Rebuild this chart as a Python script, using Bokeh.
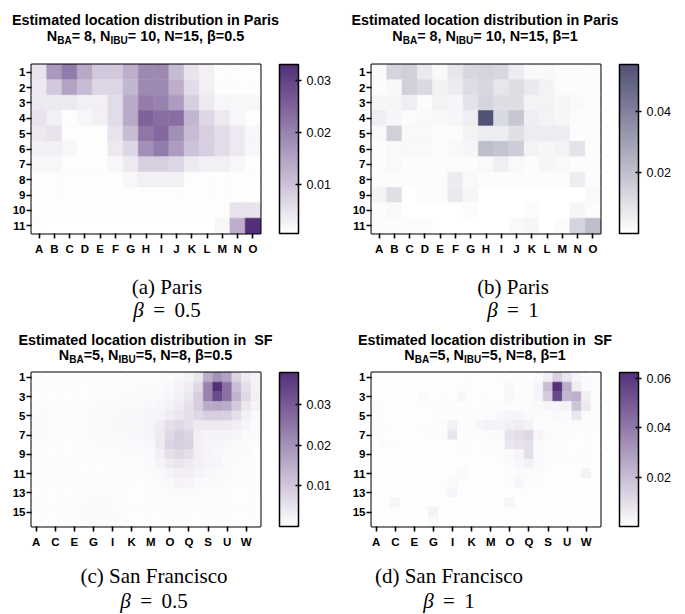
from bokeh.plotting import figure
from bokeh.models import (Range1d, FixedTicker, LinearColorMapper, ColorBar, Div,
                          ColumnDataSource, PrintfTickFormatter)
from bokeh.layouts import row, column
from bokeh.embed import file_html
from bokeh.resources import INLINE

# ---------------- data (values in units of 1e-4) ----------------
paris_cols = ["A", "B", "C", "D", "E", "F", "G", "H", "I", "J", "K", "L", "M", "N", "O"]
paris_rows = [1, 2, 3, 4, 5, 6, 7, 8, 9, 10, 11]
sf_cols = ["A", "B", "C", "D", "E", "F", "G", "H", "I", "J", "K", "L",
           "M", "N", "O", "P", "Q", "R", "S", "T", "U", "V", "W", "X"]
sf_rows = [1, 2, 3, 4, 5, 6, 7, 8, 9, 10, 11, 12, 13, 14, 15, 16]

paris_beta05 = [
    [50, 165, 210, 140, 90, 90, 130, 190, 190, 110, 50, 30, 10, 8, 8],
    [40, 90, 150, 110, 70, 70, 120, 190, 190, 130, 60, 30, 10, 10, 10],
    [40, 40, 40, 30, 30, 60, 140, 210, 200, 160, 80, 40, 20, 20, 20],
    [50, 30, 10, 20, 30, 60, 140, 250, 230, 230, 120, 70, 40, 20, 10],
    [40, 50, 10, 10, 10, 50, 110, 220, 240, 180, 110, 80, 60, 40, 20],
    [30, 30, 20, 10, 10, 40, 70, 180, 210, 160, 100, 80, 60, 40, 20],
    [20, 20, 10, 10, 10, 20, 40, 80, 80, 70, 40, 30, 30, 20, 10],
    [10, 10, 10, 10, 10, 10, 20, 30, 30, 30, 10, 10, 10, 10, 10],
    [8, 8, 8, 8, 8, 8, 10, 10, 10, 10, 8, 8, 8, 8, 8],
    [7, 7, 7, 7, 7, 7, 7, 7, 7, 7, 7, 7, 10, 50, 50],
    [10, 6, 6, 6, 6, 6, 6, 6, 6, 6, 6, 6, 20, 130, 330],
]
paris_beta1 = [
    [20, 140, 150, 70, 20, 80, 130, 140, 130, 60, 20, 20, 10, 10, 10],
    [10, 20, 150, 120, 40, 60, 110, 130, 80, 110, 70, 40, 10, 10, 10],
    [30, 30, 50, 10, 40, 30, 90, 140, 110, 110, 40, 40, 30, 20, 10],
    [50, 30, 10, 20, 20, 30, 50, 550, 120, 180, 50, 40, 30, 10, 10],
    [20, 150, 20, 20, 10, 10, 40, 60, 60, 100, 60, 60, 60, 10, 10],
    [10, 20, 20, 20, 10, 20, 30, 210, 190, 160, 40, 30, 40, 90, 10],
    [10, 20, 10, 10, 10, 10, 10, 20, 50, 20, 10, 30, 20, 10, 10],
    [10, 10, 10, 10, 10, 60, 20, 10, 10, 10, 10, 10, 10, 60, 10],
    [40, 100, 0, 10, 10, 70, 30, 0, 0, 0, 0, 0, 0, 0, 20],
    [10, 20, 0, 0, 0, 0, 10, 0, 0, 0, 10, 0, 0, 30, 10],
    [10, 10, 10, 10, 0, 0, 0, 0, 0, 20, 30, 0, 10, 140, 210],
]
sf_beta05 = [
    [5, 5, 5, 5, 5, 5, 5, 5, 5, 5, 5, 6, 7, 8, 10, 15, 25, 45, 150, 200, 170, 80, 40, 20],
    [5, 5, 5, 5, 5, 5, 5, 5, 6, 6, 7, 8, 9, 10, 15, 20, 35, 70, 230, 380, 260, 120, 60, 25],
    [5, 5, 5, 5, 5, 5, 6, 6, 7, 8, 9, 10, 11, 13, 18, 25, 45, 90, 230, 330, 260, 140, 70, 30],
    [8, 8, 6, 6, 6, 7, 8, 9, 10, 12, 13, 14, 15, 18, 25, 35, 55, 90, 150, 160, 150, 100, 45, 20],
    [10, 10, 8, 7, 7, 8, 10, 12, 13, 14, 15, 16, 18, 22, 35, 45, 60, 70, 90, 90, 85, 60, 30, 12],
    [10, 10, 8, 7, 7, 8, 10, 12, 14, 15, 16, 17, 20, 35, 60, 70, 60, 40, 40, 40, 40, 30, 20, 10],
    [8, 8, 6, 6, 6, 7, 9, 10, 12, 13, 14, 15, 18, 40, 70, 90, 80, 30, 20, 20, 20, 18, 12, 8],
    [6, 6, 5, 5, 5, 6, 7, 8, 9, 10, 11, 12, 15, 40, 80, 90, 85, 30, 20, 18, 15, 12, 10, 6],
    [5, 5, 5, 5, 5, 5, 5, 6, 7, 8, 9, 10, 12, 30, 60, 70, 60, 30, 20, 15, 12, 10, 8, 5],
    [5, 5, 5, 5, 5, 5, 5, 5, 5, 6, 7, 8, 10, 20, 40, 50, 40, 30, 20, 18, 12, 8, 6, 5],
    [5, 5, 5, 5, 5, 5, 5, 5, 5, 5, 5, 6, 8, 12, 20, 30, 30, 20, 15, 12, 8, 6, 5, 5],
    [5, 5, 5, 5, 5, 5, 5, 5, 5, 5, 5, 5, 6, 8, 12, 20, 20, 12, 10, 8, 6, 5, 5, 5],
    [5, 5, 5, 5, 5, 6, 7, 7, 6, 5, 5, 5, 5, 6, 8, 10, 10, 8, 6, 5, 5, 5, 5, 5],
    [5, 5, 5, 5, 6, 8, 10, 10, 8, 6, 5, 5, 5, 5, 6, 6, 6, 5, 5, 5, 5, 5, 5, 5],
    [5, 5, 5, 5, 6, 9, 11, 11, 8, 6, 5, 5, 5, 5, 5, 5, 5, 5, 5, 5, 5, 5, 5, 5],
    [5, 5, 5, 5, 6, 8, 10, 10, 8, 6, 5, 5, 5, 5, 5, 5, 5, 5, 5, 5, 5, 5, 5, 5],
]
sf_beta1 = [
    [3, 3, 3, 3, 3, 3, 3, 3, 3, 3, 5, 3, 3, 5, 8, 5, 8, 20, 50, 140, 80, 30, 15, 5],
    [3, 3, 3, 3, 3, 3, 3, 3, 3, 5, 5, 3, 5, 8, 25, 8, 10, 35, 200, 620, 250, 60, 20, 8],
    [3, 3, 3, 3, 3, 20, 8, 5, 5, 25, 5, 5, 5, 8, 25, 10, 10, 30, 160, 550, 220, 240, 50, 10],
    [15, 5, 3, 3, 8, 8, 5, 5, 5, 5, 5, 5, 8, 10, 15, 10, 12, 20, 30, 30, 40, 180, 70, 10],
    [5, 3, 3, 3, 3, 3, 5, 5, 5, 8, 8, 10, 15, 25, 35, 30, 20, 15, 15, 20, 15, 80, 15, 5],
    [10, 5, 3, 3, 3, 5, 8, 10, 45, 10, 10, 30, 40, 30, 50, 60, 40, 10, 10, 10, 10, 10, 8, 5],
    [5, 8, 3, 3, 3, 5, 10, 12, 80, 10, 10, 12, 15, 20, 90, 100, 120, 30, 15, 10, 10, 8, 8, 5],
    [5, 15, 5, 3, 3, 3, 5, 5, 8, 8, 5, 5, 10, 10, 80, 90, 100, 20, 10, 8, 8, 8, 5, 5],
    [8, 3, 3, 3, 3, 3, 3, 3, 5, 5, 5, 5, 5, 8, 20, 30, 100, 20, 10, 8, 8, 5, 10, 5],
    [3, 3, 3, 3, 3, 3, 3, 3, 3, 3, 3, 3, 3, 5, 15, 25, 40, 20, 10, 5, 5, 5, 5, 3],
    [3, 3, 3, 3, 3, 3, 3, 3, 3, 20, 3, 3, 3, 3, 10, 15, 15, 10, 5, 3, 3, 5, 40, 3],
    [3, 3, 3, 3, 3, 3, 3, 5, 20, 5, 3, 3, 3, 3, 8, 30, 10, 5, 3, 3, 3, 3, 3, 3],
    [3, 3, 3, 3, 3, 3, 3, 5, 30, 3, 3, 3, 3, 3, 3, 5, 5, 3, 3, 3, 3, 3, 3, 3],
    [3, 3, 30, 3, 3, 3, 3, 3, 3, 3, 3, 3, 3, 3, 30, 3, 3, 3, 3, 3, 3, 3, 3, 3],
    [3, 3, 3, 3, 3, 3, 40, 3, 3, 3, 3, 3, 3, 3, 3, 3, 3, 3, 3, 3, 3, 3, 3, 3],
    [3, 3, 3, 3, 3, 3, 20, 3, 3, 3, 3, 3, 3, 3, 3, 3, 3, 3, 3, 3, 3, 3, 3, 3],
]
UNIT = 1e-4

# ---------------- styling helpers ----------------
SANS = "Liberation Sans"
SERIF = "Liberation Serif"


def make_palette(dark):
    out = []
    for i in range(256):
        t = i / 255.0
        r = round(255 + (dark[0] - 255) * t)
        g = round(255 + (dark[1] - 255) * t)
        b = round(255 + (dark[2] - 255) * t)
        out.append("#%02x%02x%02x" % (r, g, b))
    return out


PURPLE = make_palette((84, 48, 122))
SLATE = make_palette((80, 82, 118))


def line_html(cx, baseline, fs, asc_desc_half, inner, extra=""):
    top = baseline - asc_desc_half * fs
    return ('<div style="position:absolute;left:%.1fpx;top:%.1fpx;transform:translateX(-50%%);'
            'white-space:nowrap;font-size:%.1fpx;line-height:0;%s">%s</div>'
            % (cx, top, fs, extra, inner))


def title_div(w, h, cx, y1, y2, title1, nba, nibu, rest):
    fs = 14.4
    sub = '<span style="font-size:10px;vertical-align:-3px;line-height:0">%s</span>'
    l2 = "N" + sub % "BA" + nba + "N" + sub % "IBU" + nibu + rest
    html = ('<div style="position:relative;width:%dpx;height:%dpx;font-family:\'%s\';'
            'font-weight:bold;color:black;line-height:0">' % (w, h, SANS)
            + line_html(cx, y1, fs, 0.3465, title1)
            + line_html(cx, y2, fs, 0.3465, l2)
            + '</div>')
    return Div(text=html, width=w, height=h, margin=0)


def caption_div(w, h, cx, y1, y2, cap, beta_val):
    fs = 21
    l2 = '<i>β</i>&thinsp; = &thinsp;' + beta_val
    html = ('<div style="position:relative;width:%dpx;height:%dpx;font-family:\'%s\';'
            'font-weight:normal;color:black;line-height:0">' % (w, h, SERIF)
            + line_html(cx, y1, fs, 0.3375, cap)
            + line_html(cx, y2, fs, 0.3375, l2)
            + '</div>')
    return Div(text=html, width=w, height=h, margin=0)


def heat_fig(data, cols, rows, step, low, high, cticks, pal, fig_w, left, fh):
    fw = 229
    top, bottom = 2, 25
    p = figure(width=fig_w, height=top + fh + bottom, output_backend="svg",
               toolbar_location=None,
               x_range=Range1d(0.5, len(cols) + 0.5), y_range=Range1d(len(rows) + 0.5, 0.5),
               min_border_left=left, min_border_right=fig_w - left - fw,
               min_border_top=top, min_border_bottom=bottom)
    p.grid.visible = False
    p.outline_line_color = "black"
    p.outline_line_width = 2
    p.background_fill_color = "white"
    p.border_fill_color = "white"

    xs, ys, vs = [], [], []
    for ri, r in enumerate(rows):
        for ci in range(len(cols)):
            xs.append(ci + 1)
            ys.append(r)
            vs.append(data[ri][ci] * UNIT)
    src = ColumnDataSource(dict(x=xs, y=ys, v=vs))
    mapper = LinearColorMapper(palette=pal, low=low, high=high)
    p.rect(x="x", y="y", width=1, height=1, source=src,
           fill_color={"field": "v", "transform": mapper},
           line_color={"field": "v", "transform": mapper}, line_width=0.6)

    xt = list(range(1, len(cols) + 1, step))
    yt = list(range(1, len(rows) + 1, step))
    p.xaxis.ticker = FixedTicker(ticks=xt)
    p.xaxis.major_label_overrides = {i: cols[i - 1] for i in xt}
    p.yaxis.ticker = FixedTicker(ticks=yt)
    p.yaxis.major_label_overrides = {i: str(rows[i - 1]) for i in yt}
    for ax in (p.xaxis[0], p.yaxis[0]):
        ax.axis_line_color = None
        ax.major_tick_line_color = "black"
        ax.major_tick_line_width = 1.6
        ax.major_tick_in = 0
        ax.major_tick_out = 5
        ax.minor_tick_line_color = None
        ax.major_label_text_font = SANS
        ax.major_label_text_font_style = "bold"
        ax.major_label_text_font_size = "11.5px"
        ax.major_label_text_color = "black"
    p.xaxis.major_label_standoff = 4
    p.yaxis.major_label_standoff = 1

    cb = ColorBar(color_mapper=mapper, ticker=FixedTicker(ticks=cticks),
                  formatter=PrintfTickFormatter(format="%.2f"),
                  width=19, height=fh, location=(fw + 19, 0), padding=0, margin=0,
                  bar_line_color="black", bar_line_width=1.5,
                  major_tick_line_color="black", major_tick_line_width=1.5,
                  major_tick_in=3, major_tick_out=3, label_standoff=5,
                  minor_tick_line_color=None,
                  major_label_text_font=SANS, major_label_text_font_size="12.5px",
                  major_label_text_color="black",
                  background_fill_alpha=0, border_line_color=None)
    p.add_layout(cb)
    return p


WA, WB = 348, 337

ta = title_div(WA, 62, 145.5, 24.5, 41, "Estimated location distribution in Paris",
               "= 8, ", "= 10, ", "N=15, β=0.5")
ha = heat_fig(paris_beta05, paris_cols, paris_rows, 1, 0.0005, 0.033, [0.01, 0.02, 0.03],
              PURPLE, WA, 31, 169)
ca = caption_div(WA, 64, 167, 36, 59.5, "(a) Paris", "0.5")

tb = title_div(WB, 62, 137, 24.5, 41, "Estimated location distribution in Paris",
               "= 8, ", "= 10, ", "N=15, β=1")
hb = heat_fig(paris_beta1, paris_cols, paris_rows, 1, 0.0, 0.0556, [0.02, 0.04],
              SLATE, WB, 23, 169)
cb_ = caption_div(WB, 64, 165, 36, 59.5, "(b) Paris", "1")

tc = title_div(WA, 48, 145.5, 22.5, 38, "Estimated location distribution in&nbsp; SF",
               "=5, ", "=5, ", "N=8, β=0.5")
hc = heat_fig(sf_beta05, sf_cols, sf_rows, 2, 0.0, 0.038, [0.01, 0.02, 0.03],
              PURPLE, WA, 31, 154)
cc = caption_div(WA, 63, 154, 32, 57, "(c) San Francisco", "0.5")

td = title_div(WB, 48, 137, 22.5, 38, "Estimated location distribution in&nbsp; SF",
               "=5, ", "=5, ", "N=8, β=1")
hd = heat_fig(sf_beta1, sf_cols, sf_rows, 2, 0.0, 0.0623, [0.02, 0.04, 0.06],
              PURPLE, WB, 23, 154)
cd = caption_div(WB, 63, 101, 32, 57, "(d) San Francisco", "1")

layout = column(
    row(column(ta, ha, ca, spacing=0), column(tb, hb, cb_, spacing=0), spacing=0),
    row(column(tc, hc, cc, spacing=0), column(td, hd, cd, spacing=0), spacing=0),
    spacing=0)
open("out.html", "w").write(file_html(layout, INLINE))
